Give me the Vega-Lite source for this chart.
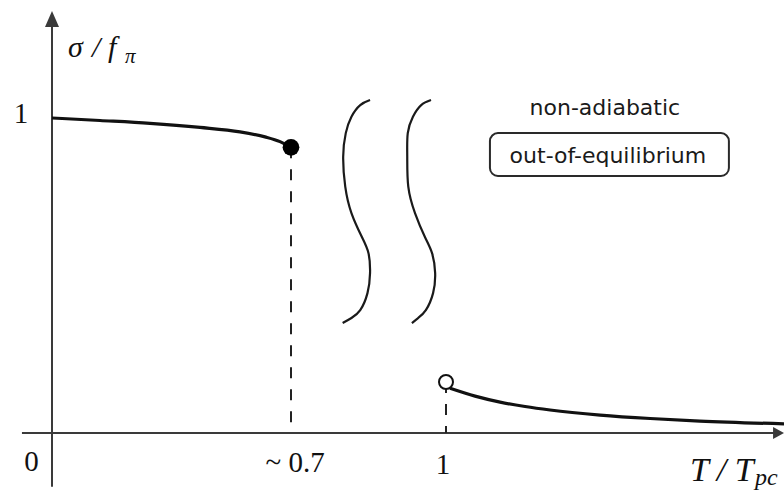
{
  "$schema": "https://vega.github.io/schema/vega-lite/v6.json",
  "width": 784,
  "height": 490,
  "padding": 0,
  "autosize": {"type": "none"},
  "background": "white",
  "view": {"stroke": null},
  "datasets": {
    "axes": [
      {"x": 0, "y": -0.171, "x2": 0, "y2": 1.29},
      {"x": -0.088, "y": 0, "x2": 1.973, "y2": 0}
    ],
    "arrowY": [{"x": 0, "y": 1.314}],
    "arrowX": [{"x": 1.984, "y": 0}],
    "lowT": [
      {"x": 0, "y": 1.0},
      {"x": 0.1406, "y": 0.992},
      {"x": 0.287, "y": 0.983},
      {"x": 0.4335, "y": 0.970},
      {"x": 0.5506, "y": 0.956},
      {"x": 0.6238, "y": 0.940},
      {"x": 0.6678, "y": 0.925},
      {"x": 0.7, "y": 0.907}
    ],
    "highT": [
      {"x": 1.012, "y": 0.142},
      {"x": 1.086, "y": 0.117},
      {"x": 1.16, "y": 0.098},
      {"x": 1.234, "y": 0.084},
      {"x": 1.308, "y": 0.073},
      {"x": 1.456, "y": 0.057},
      {"x": 1.604, "y": 0.046},
      {"x": 1.751, "y": 0.038},
      {"x": 2.0, "y": 0.029}
    ],
    "waves": [
      {"id": "a", "i": 0, "x": 0.853, "y": 1.057},
      {"id": "a", "i": 1, "x": 0.834, "y": 1.041},
      {"id": "a", "i": 2, "x": 0.817, "y": 1.004},
      {"id": "a", "i": 3, "x": 0.806, "y": 0.952},
      {"id": "a", "i": 4, "x": 0.801, "y": 0.877},
      {"id": "a", "i": 5, "x": 0.805, "y": 0.782},
      {"id": "a", "i": 6, "x": 0.817, "y": 0.698},
      {"id": "a", "i": 7, "x": 0.837, "y": 0.623},
      {"id": "a", "i": 8, "x": 0.850, "y": 0.571},
      {"id": "a", "i": 9, "x": 0.853, "y": 0.508},
      {"id": "a", "i": 10, "x": 0.848, "y": 0.444},
      {"id": "a", "i": 11, "x": 0.834, "y": 0.390},
      {"id": "a", "i": 12, "x": 0.817, "y": 0.365},
      {"id": "a", "i": 13, "x": 0.800, "y": 0.349},
      {"id": "b", "i": 0, "x": 0.971, "y": 1.057},
      {"id": "b", "i": 1, "x": 0.952, "y": 1.041},
      {"id": "b", "i": 2, "x": 0.936, "y": 1.004},
      {"id": "b", "i": 3, "x": 0.926, "y": 0.952},
      {"id": "b", "i": 4, "x": 0.925, "y": 0.877},
      {"id": "b", "i": 5, "x": 0.927, "y": 0.782},
      {"id": "b", "i": 6, "x": 0.940, "y": 0.698},
      {"id": "b", "i": 7, "x": 0.959, "y": 0.623},
      {"id": "b", "i": 8, "x": 0.973, "y": 0.571},
      {"id": "b", "i": 9, "x": 0.979, "y": 0.508},
      {"id": "b", "i": 10, "x": 0.975, "y": 0.444},
      {"id": "b", "i": 11, "x": 0.961, "y": 0.390},
      {"id": "b", "i": 12, "x": 0.946, "y": 0.365},
      {"id": "b", "i": 13, "x": 0.934, "y": 0.349}
    ],
    "guides": [
      {"x": 0.7, "y": 0.907, "y2": 0},
      {"x": 1.0, "y": 0.162, "y2": 0}
    ],
    "filledDot": [{"x": 0.7, "y": 0.907}],
    "openDot": [{"x": 1.0, "y": 0.162}],
    "box": [{"x": 1.13, "x2": 1.837, "y": 0.952, "y2": 0.816}],
    "ticks": [
      {"x": -0.0908, "y": 1.013, "label": "1"},
      {"x": -0.0601, "y": -0.0905, "label": "0"},
      {"x": 0.708, "y": -0.095, "label": "~ 0.7"},
      {"x": 0.994, "y": -0.1016, "label": "1"}
    ],
    "yTitle": [
      {"x": 0.0469, "y": 1.194, "label": "σ"},
      {"x": 0.117, "y": 1.194, "label": "/"},
      {"x": 0.1640, "y": 1.194, "label": "f"}
    ],
    "ySub": [{"x": 0.2138, "y": 1.1746, "label": "π"}],
    "xTitle": [{"x": 1.722, "y": -0.1508, "label": "T / T"}],
    "xSub": [{"x": 1.914, "y": -0.165, "label": "pc"}],
    "notes": [
      {"x": 1.47, "y": 1.0095, "label": "non-adiabatic"},
      {"x": 1.479, "y": 0.857, "label": "out-of-equilibrium"}
    ]
  },
  "encoding": {
    "x": {"field": "x", "type": "quantitative", "axis": null,
          "scale": {"domain": [0, 0.7, 1, 2], "range": [52, 291, 446, 784], "nice": false, "zero": false}},
    "y": {"field": "y", "type": "quantitative", "axis": null,
          "scale": {"domain": [0, 1], "range": [433, 118], "nice": false, "zero": false}}
  },
  "layer": [
    {
      "data": {"name": "axes"},
      "mark": {"type": "rule", "color": "#3a3a3a", "strokeWidth": 2},
      "encoding": {"x2": {"field": "x2"}, "y2": {"field": "y2"}}
    },
    {
      "data": {"name": "arrowY"},
      "mark": {"type": "point", "shape": "M0,-1L0.875,1L-0.875,1Z", "size": 256, "filled": true, "color": "#3a3a3a", "opacity": 1}
    },
    {
      "data": {"name": "arrowX"},
      "mark": {"type": "point", "shape": "M1,0L-1,1.09L-1,-1.09Z", "size": 121, "filled": true, "color": "#3a3a3a", "opacity": 1}
    },
    {
      "data": {"name": "guides"},
      "mark": {"type": "rule", "color": "#222", "strokeWidth": 2, "strokeDash": [11, 11]},
      "encoding": {"y2": {"field": "y2"}}
    },
    {
      "data": {"name": "lowT"},
      "mark": {"type": "line", "color": "#111", "strokeWidth": 3.2, "interpolate": "monotone"}
    },
    {
      "data": {"name": "highT"},
      "mark": {"type": "line", "color": "#111", "strokeWidth": 3.2, "interpolate": "monotone"}
    },
    {
      "data": {"name": "waves"},
      "mark": {"type": "line", "color": "#1a1a1a", "strokeWidth": 2.2, "interpolate": "natural"},
      "encoding": {"detail": {"field": "id"}, "order": {"field": "i", "type": "quantitative"}}
    },
    {
      "data": {"name": "filledDot"},
      "mark": {"type": "point", "shape": "circle", "size": 280, "filled": true, "color": "#000", "opacity": 1}
    },
    {
      "data": {"name": "openDot"},
      "mark": {"type": "point", "shape": "circle", "size": 196, "filled": false, "fill": "white", "fillOpacity": 1, "stroke": "#111", "strokeWidth": 2, "opacity": 1}
    },
    {
      "data": {"name": "box"},
      "mark": {"type": "rect", "fill": "white", "stroke": "#2a2a2a", "strokeWidth": 2, "cornerRadius": 8},
      "encoding": {"x2": {"field": "x2"}, "y2": {"field": "y2"}}
    },
    {
      "data": {"name": "ticks"},
      "mark": {"type": "text", "font": "Liberation Serif", "fontSize": 29, "align": "center", "baseline": "middle", "color": "#111"},
      "encoding": {"text": {"field": "label"}}
    },
    {
      "data": {"name": "yTitle"},
      "mark": {"type": "text", "font": "Liberation Serif", "fontStyle": "italic", "fontSize": 30, "align": "left", "baseline": "alphabetic", "color": "#111"},
      "encoding": {"text": {"field": "label"}}
    },
    {
      "data": {"name": "ySub"},
      "mark": {"type": "text", "font": "Liberation Serif", "fontStyle": "italic", "fontSize": 21, "align": "left", "baseline": "alphabetic", "color": "#111"},
      "encoding": {"text": {"field": "label"}}
    },
    {
      "data": {"name": "xTitle"},
      "mark": {"type": "text", "font": "Liberation Serif", "fontStyle": "italic", "fontSize": 34, "align": "left", "baseline": "alphabetic", "color": "#111"},
      "encoding": {"text": {"field": "label"}}
    },
    {
      "data": {"name": "xSub"},
      "mark": {"type": "text", "font": "Liberation Serif", "fontStyle": "italic", "fontSize": 24, "align": "left", "baseline": "alphabetic", "color": "#111"},
      "encoding": {"text": {"field": "label"}}
    },
    {
      "data": {"name": "notes"},
      "mark": {"type": "text", "font": "DejaVu Sans", "fontSize": 22, "align": "center", "baseline": "alphabetic", "color": "#1a1a1a"},
      "encoding": {"text": {"field": "label"}}
    }
  ]
}
